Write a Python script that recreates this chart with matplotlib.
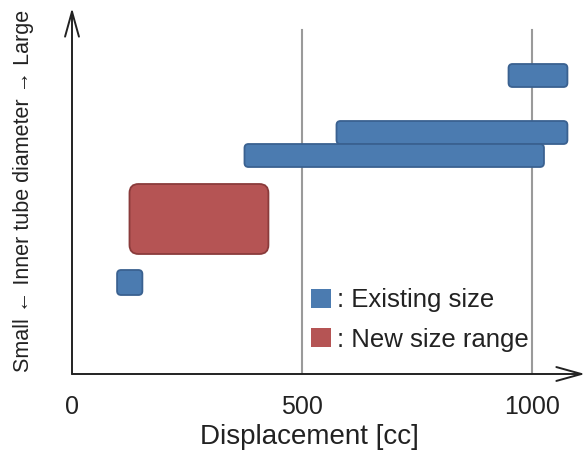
import matplotlib
matplotlib.use("Agg")
import matplotlib.pyplot as plt
from matplotlib.patches import FancyBboxPatch, Patch

plt.rcParams['font.family'] = ['Liberation Sans', 'DejaVu Sans']

# displacement ranges [cc] and inner tube diameter ranges (relative, no scale)
existing_disp = [(949, 1077), (575, 1077), (375, 1026), (98, 153)]
existing_diam = [(287, 310), (230, 253), (207, 230), (79, 104)]
new_disp = [(125, 427)]
new_diam = [(120, 190)]

xticks = [0, 500, 1000]
gridlines = [500, 1000]

blue, blue_edge = "#4B7BB0", "#3A6190"
red, red_edge = "#B55454", "#8A3B3B"

fig = plt.figure(figsize=(5.87, 4.5), dpi=100)
ax = fig.add_axes([72 / 587, 76 / 450, 515 / 587, 374 / 450])
px_per_cc = 0.46
ax.set_xlim(0, 515 / px_per_cc)
ax.set_ylim(0, 374)
for s in ax.spines.values():
    s.set_visible(False)
ax.set_yticks([])

for g in gridlines:
    ax.plot([g, g], [0, 344], color="#9a9a9a", lw=1.5, zorder=1)


def box(x0, x1, y0, y1, fc, ec, r):
    # r in pixels; convert to data units keeping corners circular
    p = FancyBboxPatch((x0, y0), x1 - x0, y1 - y0,
                       boxstyle=f"round,pad=0,rounding_size={r / px_per_cc}",
                       mutation_aspect=px_per_cc,
                       fc=fc, ec=ec, lw=1.3, zorder=3)
    ax.add_patch(p)


for (x0, x1), (y0, y1) in zip(existing_disp, existing_diam):
    box(x0, x1, y0, y1, blue, blue_edge, 4)
for (x0, x1), (y0, y1) in zip(new_disp, new_diam):
    box(x0, x1, y0, y1, red, red_edge, 9)

# axes with open arrow heads
arr = dict(arrowstyle="->,head_length=1.8,head_width=0.5", color="#222222",
           lw=1.4, shrinkA=0, shrinkB=0, mutation_scale=10)
ax.annotate("", xy=(513 / px_per_cc, 0), xytext=(0, 0), arrowprops=arr,
            annotation_clip=False, zorder=5)
ax.annotate("", xy=(0, 366), xytext=(0, 0), arrowprops=arr,
            annotation_clip=False, zorder=5)

ax.set_xticks(xticks)
ax.set_xticklabels([str(t) for t in xticks])
ax.tick_params(axis="x", length=0, pad=15, labelsize=18, labelcolor="#222222")
ax.set_xlabel("Displacement [cc]", fontsize=20, color="#222222")
ax.xaxis.set_label_coords(0.462, -0.133)
ax.set_ylabel("Small ← Inner tube diameter → Large", fontsize=15.5,
              color="#222222")
ax.yaxis.set_label_coords(-0.074, 0.49)

handles = [Patch(fc=blue, ec="none"), Patch(fc=red, ec="none")]
ax.legend(handles, [": Existing size", ": New size range"], loc="upper left",
          bbox_to_anchor=(0.464, 0.229), frameon=False, fontsize=18.5,
          handlelength=0.78, handleheight=0.78, handletextpad=0.25,
          labelspacing=0.6, borderpad=0, borderaxespad=0, labelcolor="#222222")

fig.savefig("out.png", dpi=100)
